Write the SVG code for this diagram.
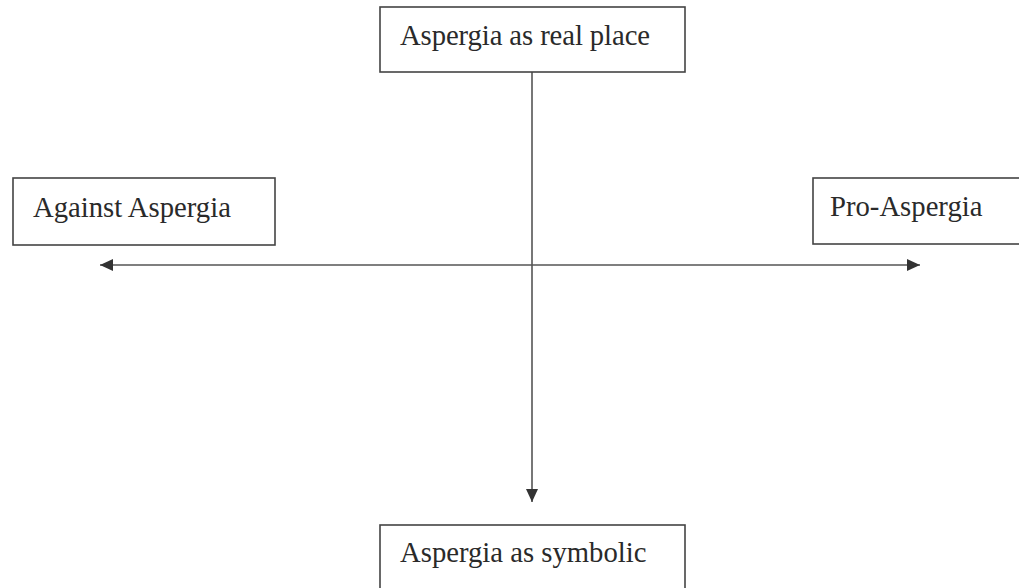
<svg xmlns="http://www.w3.org/2000/svg" width="1019" height="588" viewBox="0 0 1019 588">
<defs>
<style>
.box{fill:#fff;stroke:#444;stroke-width:1.6}
.lbl{font-family:"Liberation Serif","Times New Roman",serif;font-size:28.7px;fill:#2a2a2a}
.conn{stroke:#555;stroke-width:1.6;fill:none}
</style>
<marker id="ah2" viewBox="0 0 13 12" refX="13" refY="6" markerWidth="13" markerHeight="12" markerUnits="userSpaceOnUse" orient="auto-start-reverse"><path d="M0,0 L13,6 L0,12 z" fill="#333"/></marker>
</defs>
<rect width="1019" height="588" fill="#fff"/>
<g id="connectors">
<line class="conn" x1="532" y1="72" x2="532" y2="502" marker-end="url(#ah2)"/>
<line class="conn" x1="100" y1="265" x2="920" y2="265" marker-start="url(#ah2)" marker-end="url(#ah2)"/>
</g>
<g id="node-real">
<rect class="box" x="380" y="7" width="305" height="65"/>
<text class="lbl" x="400" y="45" textLength="250">Aspergia as real place</text>
</g>
<g id="node-against">
<rect class="box" x="13" y="178" width="262" height="67"/>
<text class="lbl" x="33" y="217">Against Aspergia</text>
</g>
<g id="node-pro">
<rect class="box" x="813" y="178" width="220" height="66"/>
<text class="lbl" x="830" y="216">Pro-Aspergia</text>
</g>
<g id="node-symbolic">
<rect class="box" x="380" y="525" width="305" height="70"/>
<text class="lbl" x="400" y="562">Aspergia as symbolic</text>
</g>
</svg>
